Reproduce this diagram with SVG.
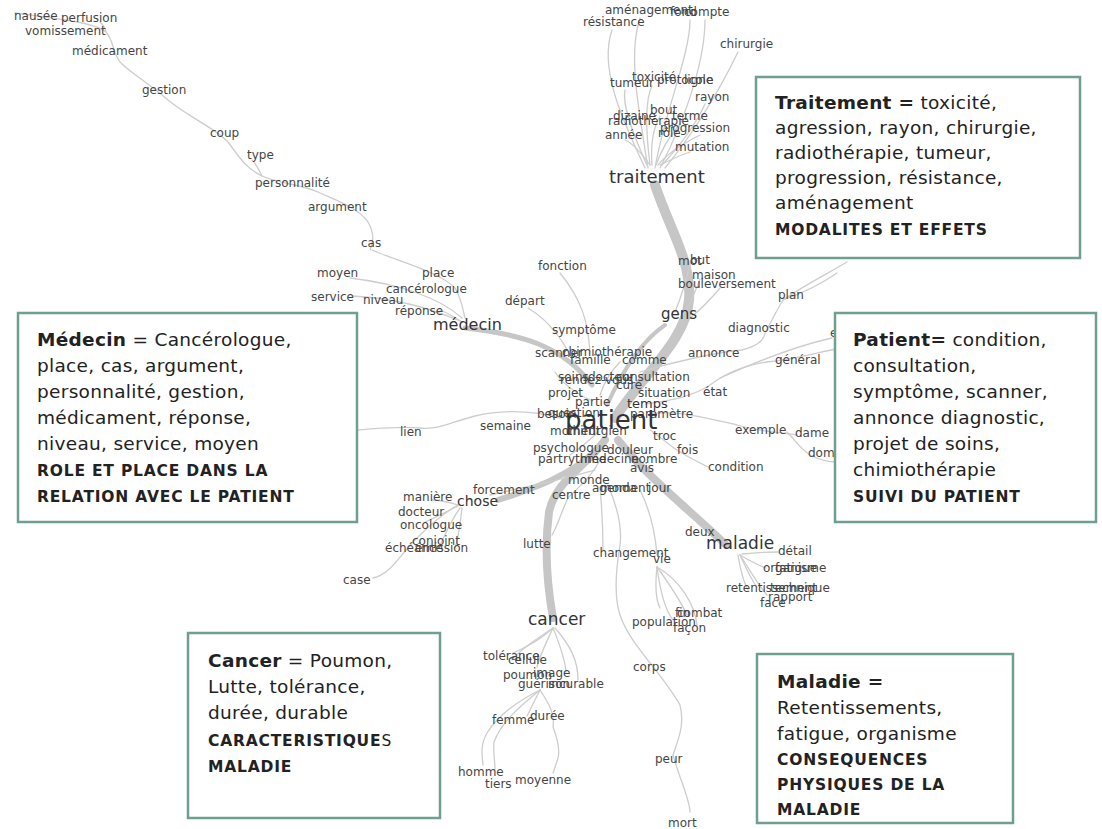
<svg xmlns="http://www.w3.org/2000/svg" width="1102" height="829" viewBox="0 0 1102 829">
<style>
.e{fill:none;stroke:#cdcdcd;stroke-width:1.3;stroke-linecap:round}
.b{fill:none;stroke:#c6c6c6;stroke-linecap:round}
.w{font-family:"DejaVu Sans",sans-serif;font-size:12px;fill:#454545}
.h{font-family:"DejaVu Sans",sans-serif;fill:#333}
.box{fill:#fff;stroke:#6f9f8f;stroke-width:2.5}
.t{font-family:"DejaVu Sans",sans-serif;font-size:18.5px;fill:#222;letter-spacing:0.3px}
.k{font-family:"DejaVu Sans",sans-serif;font-size:15.5px;font-weight:bold;fill:#222;letter-spacing:0.8px}
.bd{font-weight:bold}
</style>
<rect width="1102" height="829" fill="#fff"/>
<g id="connectors">
<!-- thick bands -->
<path class="b" stroke-width="10" d="M655,185 C670,230 692,262 689,300 C686,340 645,372 615,418"/>
<path class="b" stroke-width="8" d="M605,440 C585,468 556,480 549,512 C544,550 548,590 553,618"/>
<path class="b" stroke-width="8" d="M618,440 C650,480 690,510 726,545"/>
<path class="b" stroke-width="5" d="M465,328 C520,334 562,345 592,385"/>
<path class="b" stroke-width="6" d="M498,500 C530,490 572,476 602,445"/>
<path class="b" stroke-width="4" d="M665,325 C640,342 622,372 607,405"/>
<!-- medecin chain -->
<path class="e" d="M15,13 C50,18 95,22 106,32 C115,42 112,55 122,64 C135,76 150,84 168,100 C190,118 215,128 228,142 C238,155 245,168 262,176 C280,184 300,184 318,192 C340,202 358,208 368,222 C376,236 372,244 370,250"/>
<path class="e" d="M100,22 C104,26 106,30 106,32"/>
<path class="e" d="M262,176 C258,168 255,162 252,160"/>
<path class="e" d="M372,250 C400,262 440,272 455,288 C462,300 463,310 465,318"/>
<path class="e" d="M350,278 C400,284 440,298 462,318"/>
<path class="e" d="M352,296 C395,298 430,308 460,321"/>
<path class="e" d="M440,310 C450,314 456,318 462,322"/>
<!-- traitement fan -->
<path class="e" d="M645,168 C625,125 598,70 612,30"/>
<path class="e" d="M648,168 C638,105 628,55 640,18"/>
<path class="e" d="M655,168 C665,110 690,55 690,20"/>
<path class="e" d="M660,168 C690,110 705,55 705,20"/>
<path class="e" d="M665,168 C700,125 722,85 738,52"/>
<path class="e" d="M650,165 C645,125 645,100 652,86"/>
<path class="e" d="M647,165 C632,132 622,105 625,90"/>
<path class="e" d="M662,165 C690,135 700,115 705,104"/>
<path class="e" d="M652,165 C650,140 655,125 660,116"/>
<path class="e" d="M656,165 C665,140 675,130 680,124"/>
<path class="e" d="M650,165 C640,150 630,142 625,140"/>
<path class="e" d="M658,165 C670,150 690,140 700,135"/>
<path class="e" d="M660,165 C670,160 680,155 690,152"/>
<!-- center -->
<path class="e" d="M560,273 C582,300 588,322 590,352"/>
<path class="e" d="M528,308 C548,320 565,340 578,372"/>
<path class="e" d="M690,264 C685,285 680,300 675,312"/>
<path class="e" d="M700,279 C695,292 690,305 684,314"/>
<path class="e" d="M720,288 C710,300 700,310 690,318"/>
<path class="e" d="M640,372 C680,360 720,352 742,350 C758,346 764,340 765,333 C772,320 778,308 783,300 C800,288 825,275 847,262"/>
<path class="e" d="M783,300 C800,294 820,285 837,273"/>
<path class="e" d="M646,404 C675,400 695,395 710,385 C730,370 750,363 776,361 C800,358 820,352 836,349"/>
<path class="e" d="M720,378 C760,360 800,345 832,338"/>
<path class="e" d="M650,414 C680,410 705,418 737,425 C760,432 780,432 797,435"/>
<path class="e" d="M787,432 C795,440 800,448 810,455 C820,460 830,462 836,462"/>
<path class="e" d="M650,430 C665,440 672,448 680,452 C690,458 700,463 708,467"/>
<path class="e" d="M560,418 C530,410 500,410 475,416 C450,422 440,430 420,428 C400,426 385,428 357,430"/>
<path class="e" d="M590,400 C570,390 560,380 555,372"/>
<path class="e" d="M600,395 C605,380 612,370 620,362"/>
<path class="e" d="M595,470 C560,480 520,488 490,495"/>
<path class="e" d="M600,460 C590,480 575,490 568,498 C560,515 558,525 552,535"/>
<path class="e" d="M570,455 C580,448 590,440 598,432"/>
<!-- chose fan -->
<path class="e" d="M458,505 C445,512 430,525 415,540 C400,555 390,575 373,578"/>
<path class="e" d="M458,505 C448,502 440,500 432,500"/>
<path class="e" d="M458,506 C440,515 430,520 425,522"/>
<path class="e" d="M460,508 C450,522 445,535 440,545"/>
<path class="e" d="M462,508 C460,525 458,540 455,548"/>
<!-- changement / peur / mort -->
<path class="e" d="M610,490 C618,510 622,530 620,545 C615,575 615,600 620,615 C630,645 660,670 680,705 C685,725 678,740 673,755 C680,780 690,800 690,812"/>
<path class="e" d="M600,487 C602,510 603,530 603,550"/>
<path class="e" d="M640,490 C650,510 655,530 657,555"/>
<path class="e" d="M657,567 C660,590 665,610 673,620"/>
<path class="e" d="M657,567 C670,585 680,600 687,615"/>
<path class="e" d="M657,567 C680,580 695,605 697,625"/>
<path class="e" d="M657,567 C655,585 656,600 660,608"/>
<!-- cancer fan -->
<path class="e" d="M553,628 C540,640 525,648 513,653"/>
<path class="e" d="M553,628 C545,645 540,655 537,667"/>
<path class="e" d="M553,628 C560,645 565,660 566,672"/>
<path class="e" d="M555,628 C570,645 578,660 578,680"/>
<path class="e" d="M553,628 C535,640 520,650 512,660"/>
<path class="e" d="M540,690 C535,700 530,710 527,716"/>
<path class="e" d="M540,690 C510,705 495,720 487,733 C480,745 482,755 483,765"/>
<path class="e" d="M540,690 C515,710 500,725 494,742 C493,752 495,762 495,770"/>
<path class="e" d="M540,690 C550,705 555,715 553,727 C558,740 560,750 558,758 C556,765 554,770 553,773"/>
<!-- maladie fan -->
<path class="e" d="M740,555 C745,565 750,578 757,587"/>
<path class="e" d="M740,555 C750,570 758,585 767,595"/>
<path class="e" d="M740,555 C752,562 760,566 766,568"/>
<path class="e" d="M738,555 C740,570 745,585 748,590"/>
<path class="e" d="M742,554 C760,552 770,552 778,552"/>
</g>
<g id="n-traitement">
<text class="w" x="605" y="14">aménagement</text>
<text class="w" x="670" y="16">fond</text>
<text class="w" x="684" y="16">compte</text>
<text class="w" x="583" y="26">résistance</text>
<text class="w" x="720" y="48">chirurgie</text>
<text class="w" x="632" y="81">toxicité</text>
<text class="w" x="610" y="87">tumeur</text>
<text class="w" x="657" y="84">protocole</text>
<text class="w" x="684" y="84">ligne</text>
<text class="w" x="695" y="101">rayon</text>
<text class="w" x="650" y="114">bout</text>
<text class="w" x="672" y="120">terme</text>
<text class="w" x="613" y="120">dizaine</text>
<text class="w" x="608" y="125">radiothérapie</text>
<text class="w" x="660" y="132">progression</text>
<text class="w" x="605" y="139">année</text>
<text class="w" x="658" y="137">rôle</text>
<text class="w" x="675" y="151">mutation</text>
<text class="h" x="609" y="183" font-size="18">traitement</text>
</g>
<g id="n-medecin">
<text class="w" x="14" y="20">nausée</text>
<text class="w" x="61" y="22">perfusion</text>
<text class="w" x="25" y="35">vomissement</text>
<text class="w" x="72" y="55">médicament</text>
<text class="w" x="142" y="94">gestion</text>
<text class="w" x="210" y="137">coup</text>
<text class="w" x="247" y="159">type</text>
<text class="w" x="255" y="187">personnalité</text>
<text class="w" x="308" y="211">argument</text>
<text class="w" x="361" y="247">cas</text>
<text class="w" x="317" y="277">moyen</text>
<text class="w" x="422" y="277">place</text>
<text class="w" x="386" y="293">cancérologue</text>
<text class="w" x="311" y="301">service</text>
<text class="w" x="363" y="304">niveau</text>
<text class="w" x="395" y="315">réponse</text>
<text class="h" x="433" y="330" font-size="16">médecin</text>
</g>
<g id="n-gens">
<text class="w" x="678" y="265">mot</text>
<text class="w" x="690" y="264">but</text>
<text class="w" x="692" y="279">maison</text>
<text class="w" x="678" y="288">bouleversement</text>
<text class="w" x="778" y="299">plan</text>
<text class="h" x="661" y="319" font-size="15">gens</text>
<text class="w" x="728" y="332">diagnostic</text>
<text class="w" x="830" y="337">enfant</text>
<text class="w" x="688" y="357">annonce</text>
<text class="w" x="775" y="364">général</text>
<text class="w" x="703" y="396">état</text>
<text class="w" x="735" y="434">exemple</text>
<text class="w" x="795" y="437">dame</text>
<text class="w" x="808" y="457">domicile</text>
<text class="w" x="677" y="454">fois</text>
<text class="w" x="708" y="471">condition</text>
</g>
<g id="n-patient">
<text class="w" x="538" y="270">fonction</text>
<text class="w" x="505" y="305">départ</text>
<text class="w" x="552" y="334">symptôme</text>
<text class="w" x="535" y="357">scanner</text>
<text class="w" x="562" y="356">chimiothérapie</text>
<text class="w" x="570" y="364">famille</text>
<text class="w" x="622" y="364">comme</text>
<text class="w" x="558" y="381">soins</text>
<text class="w" x="560" y="384">rendez-vous</text>
<text class="w" x="588" y="381">docteur</text>
<text class="w" x="616" y="381">consultation</text>
<text class="w" x="616" y="389">cure</text>
<text class="w" x="548" y="397">projet</text>
<text class="w" x="638" y="397">situation</text>
<text class="w" x="575" y="406">partie</text>
<text class="h" x="627" y="408" font-size="13">temps</text>
<text class="w" x="537" y="418">besoin</text>
<text class="w" x="548" y="417">question</text>
<text class="w" x="630" y="418">paramètre</text>
<text class="h" x="565" y="429" font-size="26" fill="#222">patient</text>
<text class="w" x="480" y="430">semaine</text>
<text class="w" x="400" y="436">lien</text>
<text class="w" x="550" y="435">moment</text>
<text class="w" x="566" y="435">chirurgien</text>
<text class="w" x="653" y="440">troc</text>
<text class="w" x="533" y="452">psychologue</text>
<text class="w" x="607" y="454">douleur</text>
<text class="w" x="538" y="463">part</text>
<text class="w" x="563" y="463">rythme</text>
<text class="w" x="580" y="463">médecine</text>
<text class="w" x="631" y="463">nombre</text>
<text class="w" x="630" y="472">avis</text>
<text class="w" x="568" y="484">monde</text>
<text class="w" x="592" y="492">agenda</text>
<text class="w" x="600" y="492">moment</text>
<text class="w" x="648" y="492">jour</text>
<text class="w" x="552" y="499">centre</text>
</g>
<g id="n-chose">
<text class="w" x="473" y="494">forcement</text>
<text class="w" x="403" y="501">manière</text>
<text class="h" x="457" y="506" font-size="14">chose</text>
<text class="w" x="398" y="516">docteur</text>
<text class="w" x="400" y="529">oncologue</text>
<text class="w" x="412" y="545">conjoint</text>
<text class="w" x="385" y="552">échéance</text>
<text class="w" x="415" y="552">émission</text>
<text class="w" x="343" y="584">case</text>
<text class="w" x="523" y="548">lutte</text>
</g>
<g id="n-cancer">
<text class="h" x="528" y="625" font-size="17">cancer</text>
<text class="w" x="483" y="660">tolérance</text>
<text class="w" x="508" y="664">cellule</text>
<text class="w" x="503" y="679">poumon</text>
<text class="w" x="533" y="677">image</text>
<text class="w" x="518" y="688">guérison</text>
<text class="w" x="548" y="688">incurable</text>
<text class="w" x="492" y="724">femme</text>
<text class="w" x="530" y="720">durée</text>
<text class="w" x="458" y="776">homme</text>
<text class="w" x="485" y="788">tiers</text>
<text class="w" x="515" y="784">moyenne</text>
</g>
<g id="n-changement">
<text class="w" x="593" y="557">changement</text>
<text class="w" x="653" y="563">vie</text>
<text class="w" x="632" y="626">population</text>
<text class="w" x="677" y="617">combat</text>
<text class="w" x="675" y="617">fin</text>
<text class="w" x="673" y="632">façon</text>
<text class="w" x="633" y="671">corps</text>
<text class="w" x="655" y="763">peur</text>
<text class="w" x="668" y="827">mort</text>
</g>
<g id="n-maladie">
<text class="w" x="685" y="536">deux</text>
<text class="h" x="706" y="549" font-size="17">maladie</text>
<text class="w" x="778" y="555">détail</text>
<text class="w" x="763" y="572">organisme</text>
<text class="w" x="775" y="572">fatigue</text>
<text class="w" x="726" y="592">retentissement</text>
<text class="w" x="770" y="592">technique</text>
<text class="w" x="768" y="601">rapport</text>
<text class="w" x="760" y="607">face</text>
</g>
<g id="box-traitement">
<rect class="box" x="756" y="77" width="324" height="181"/>
<text class="t" x="775" y="109"><tspan class="bd">Traitement =</tspan> toxicité,</text>
<text class="t" x="775" y="134">agression, rayon, chirurgie,</text>
<text class="t" x="775" y="159">radiothérapie, tumeur,</text>
<text class="t" x="775" y="184">progression, résistance,</text>
<text class="t" x="775" y="209">aménagement</text>
<text class="k" x="775" y="235">MODALITES ET EFFETS</text>
</g>
<g id="box-medecin">
<rect class="box" x="18" y="313" width="339" height="209"/>
<text class="t" x="37" y="346"><tspan class="bd">Médecin</tspan> = Cancérologue,</text>
<text class="t" x="37" y="372">place, cas, argument,</text>
<text class="t" x="37" y="398">personnalité, gestion,</text>
<text class="t" x="37" y="424">médicament, réponse,</text>
<text class="t" x="37" y="450">niveau, service, moyen</text>
<text class="k" x="37" y="476">ROLE ET PLACE DANS LA</text>
<text class="k" x="37" y="502">RELATION AVEC LE PATIENT</text>
</g>
<g id="box-patient">
<rect class="box" x="835" y="313" width="261" height="209"/>
<text class="t" x="853" y="346"><tspan class="bd">Patient=</tspan> condition,</text>
<text class="t" x="853" y="372">consultation,</text>
<text class="t" x="853" y="398">symptôme, scanner,</text>
<text class="t" x="853" y="424">annonce diagnostic,</text>
<text class="t" x="853" y="450">projet de soins,</text>
<text class="t" x="853" y="476">chimiothérapie</text>
<text class="k" x="853" y="502">SUIVI DU PATIENT</text>
</g>
<g id="box-cancer">
<rect class="box" x="188" y="633" width="252" height="185"/>
<text class="t" x="208" y="667"><tspan class="bd">Cancer</tspan> = Poumon,</text>
<text class="t" x="208" y="693">Lutte, tolérance,</text>
<text class="t" x="208" y="719">durée, durable</text>
<text class="k" x="208" y="746">CARACTERISTIQUE<tspan font-weight="normal">S</tspan></text>
<text class="k" x="208" y="772">MALADIE</text>
</g>
<g id="box-maladie">
<rect class="box" x="757" y="654" width="256" height="169"/>
<text class="t" x="777" y="688"><tspan class="bd">Maladie =</tspan></text>
<text class="t" x="777" y="714">Retentissements,</text>
<text class="t" x="777" y="740">fatigue, organisme</text>
<text class="k" x="777" y="765">CONSEQUENCES</text>
<text class="k" x="777" y="790">PHYSIQUES DE LA</text>
<text class="k" x="777" y="815">MALADIE</text>
</g>
</svg>
